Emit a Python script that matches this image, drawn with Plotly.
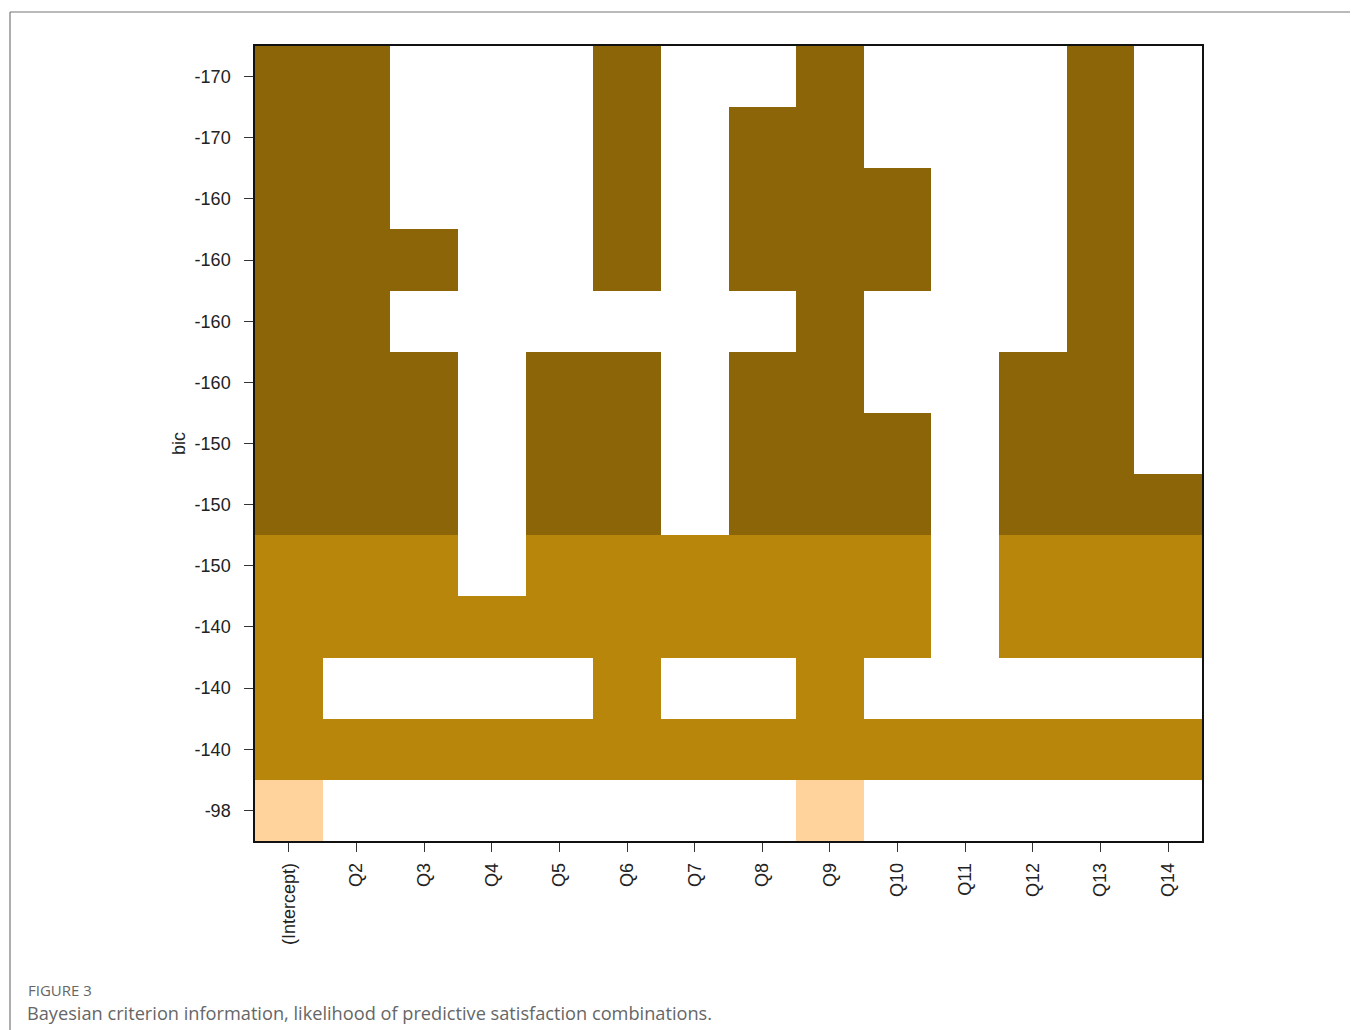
import numpy as np
import plotly.graph_objects as go

# ---- data ----
variables = ["(Intercept)", "Q2", "Q3", "Q4", "Q5", "Q6", "Q7", "Q8", "Q9",
             "Q10", "Q11", "Q12", "Q13", "Q14"]
bic_labels = ["-170", "-170", "-160", "-160", "-160", "-160", "-150",
              "-150", "-150", "-140", "-140", "-140", "-98"]
# inclusion of each variable in each model (top row first)
row_01 = [1, 1, 0, 0, 0, 1, 0, 0, 1, 0, 0, 0, 1, 0]
row_02 = [1, 1, 0, 0, 0, 1, 0, 1, 1, 0, 0, 0, 1, 0]
row_03 = [1, 1, 0, 0, 0, 1, 0, 1, 1, 1, 0, 0, 1, 0]
row_04 = [1, 1, 1, 0, 0, 1, 0, 1, 1, 1, 0, 0, 1, 0]
row_05 = [1, 1, 0, 0, 0, 0, 0, 0, 1, 0, 0, 0, 1, 0]
row_06 = [1, 1, 1, 0, 1, 1, 0, 1, 1, 0, 0, 1, 1, 0]
row_07 = [1, 1, 1, 0, 1, 1, 0, 1, 1, 1, 0, 1, 1, 0]
row_08 = [1, 1, 1, 0, 1, 1, 0, 1, 1, 1, 0, 1, 1, 1]
row_09 = [1, 1, 1, 0, 1, 1, 1, 1, 1, 1, 0, 1, 1, 1]
row_10 = [1, 1, 1, 1, 1, 1, 1, 1, 1, 1, 0, 1, 1, 1]
row_11 = [1, 0, 0, 0, 0, 1, 0, 0, 1, 0, 0, 0, 0, 0]
row_12 = [1, 1, 1, 1, 1, 1, 1, 1, 1, 1, 1, 1, 1, 1]
row_13 = [1, 0, 0, 0, 0, 0, 0, 0, 1, 0, 0, 0, 0, 0]
inclusion = [row_01, row_02, row_03, row_04, row_05, row_06, row_07,
             row_08, row_09, row_10, row_11, row_12, row_13]
# shade level of each row (2 = darkest, 0 = lightest)
shade_level = [2, 2, 2, 2, 2, 2, 2, 2, 1, 1, 1, 1, 0]

# ---- build ----
inc = np.array(inclusion, dtype=float)
lvl = np.array(shade_level, dtype=float)[:, None]
z = np.where(inc > 0, lvl * np.ones_like(inc), np.nan)

OFF = 8  # page body margin
W, H = 1358 - OFF, 1030 - OFF
L, R, T, B = 255 - OFF, 1202 - OFF, 46 - OFF, 841 - OFF

light, mid, dark = "#FFD39B", "#B8860B", "#8B6508"

fig = go.Figure(go.Heatmap(
    z=z,
    x=list(range(len(variables))),
    y=list(range(len(bic_labels))),
    colorscale=[[0, light], [0.5, mid], [1, dark]],
    zmin=0, zmax=2,
    showscale=False,
    hoverongaps=False,
    xgap=0, ygap=0,
))

tickfont = dict(family="Liberation Sans, Arial, sans-serif", size=18, color="#222222")

fig.update_xaxes(
    tickmode="array",
    tickvals=list(range(len(variables))),
    ticktext=variables,
    tickangle=-90,
    range=[-0.5, len(variables) - 0.5],
    showline=True, linecolor="#111111", linewidth=1.5, mirror=True,
    ticks="outside", ticklen=9, tickcolor="#333333", tickwidth=1.2,
    ticklabelstandoff=4,
    showgrid=False, zeroline=False,
    tickfont=tickfont,
)
fig.update_yaxes(
    tickmode="array",
    tickvals=list(range(len(bic_labels))),
    ticktext=bic_labels,
    range=[len(bic_labels) - 0.5, -0.5],
    showline=True, linecolor="#111111", linewidth=1.5, mirror=True,
    ticks="outside", ticklen=9, tickcolor="#333333", tickwidth=1.2,
    ticklabelstandoff=10,
    showgrid=False, zeroline=False,
    tickfont=tickfont,
    title=dict(text="bic", font=dict(family="Liberation Sans, Arial, sans-serif",
                                     size=18, color="#222222"), standoff=4),
)

pw, ph = R - L, B - T

def px_x(p):
    return (p - OFF - L) / pw

def px_y(p):
    return (B - (p - OFF)) / ph

fig.update_layout(
    width=W, height=H,
    margin=dict(l=L, r=W - R, t=T, b=H - B, pad=0),
    plot_bgcolor="white", paper_bgcolor="white",
    shapes=[
        dict(type="line", xref="paper", yref="paper",
             x0=px_x(10), x1=px_x(1358), y0=px_y(12), y1=px_y(12),
             line=dict(color="#777777", width=1.2)),
        dict(type="line", xref="paper", yref="paper",
             x0=px_x(10), x1=px_x(10), y0=px_y(12), y1=px_y(1030),
             line=dict(color="#777777", width=1.2)),
    ],
    annotations=[
        dict(text="FIGURE 3", xref="paper", yref="paper",
             x=px_x(26), y=px_y(990), xanchor="left", yanchor="middle",
             showarrow=False,
             font=dict(family="Open Sans, sans-serif", size=15, color="#666666")),
        dict(text="Bayesian criterion information, likelihood of predictive satisfaction combinations.",
             xref="paper", yref="paper",
             x=px_x(25), y=px_y(1013), xanchor="left", yanchor="middle",
             showarrow=False,
             font=dict(family="Open Sans, sans-serif", size=18.2, color="#666666")),
    ],
)

fig.write_html("out.html")
